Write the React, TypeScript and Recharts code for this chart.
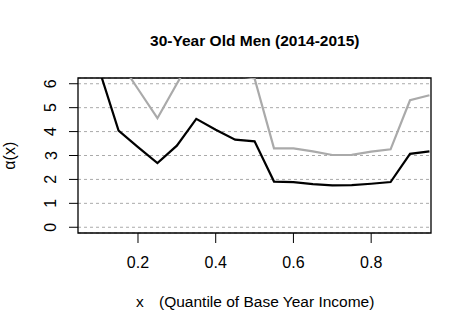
import React from 'react';
import { LineChart, Line, XAxis, YAxis, CartesianGrid, ReferenceArea } from 'recharts';

// quantile grid and the two alpha(x) curves
const quantiles = [0.05, 0.1, 0.15, 0.2, 0.25, 0.3, 0.35, 0.4, 0.45, 0.5, 0.55, 0.6, 0.65, 0.7, 0.75, 0.8, 0.85, 0.9, 0.95];
const blackCurve = [9.0, 6.6, 4.04, 3.35, 2.68, 3.41, 4.53, 4.08, 3.66, 3.59, 1.91, 1.89, 1.8, 1.75, 1.76, 1.82, 1.89, 3.07, 3.17];
const grayCurve = [9.5, 8.5, 7.0, 5.78, 4.56, 6.0, 7.4, 7.2, 6.35, 6.22, 3.3, 3.3, 3.17, 3.02, 3.03, 3.16, 3.26, 5.31, 5.52];
const xTicks = [0.2, 0.4, 0.6, 0.8];
const yTicks = [0, 1, 2, 3, 4, 5, 6];

const X_DOMAIN: [number, number] = [0.0456, 0.954];
const Y_DOMAIN: [number, number] = [-0.24, 6.24];

const data = quantiles.map((q, i) => ({ q, black: blackCurve[i], gray: grayCurve[i] }));

const FONT = '"Liberation Sans", Arial, sans-serif';

const XTick = (props: any) => {
  const { x, payload } = props;
  return (
    <text x={x} y={267.5} textAnchor="middle" fontSize={16} fontFamily={FONT} fill="#000">
      {payload.value}
    </text>
  );
};

const YTick = (props: any) => {
  const { y, payload } = props;
  const bx = 56.5;
  return (
    <text x={bx} y={y} transform={`rotate(-90, ${bx}, ${y})`} textAnchor="middle" fontSize={16} fontFamily={FONT} fill="#000">
      {payload.value}
    </text>
  );
};

const App: React.FC = () => {
  return (
    <div style={{ position: 'absolute', left: 0, top: 0, width: 472, height: 331, background: '#fff' }}>
      <div
        style={{
          position: 'absolute', left: 254.8, top: 32, transform: 'translateX(-50%)', whiteSpace: 'nowrap',
          fontFamily: FONT, fontWeight: 'bold', fontSize: 15.5, lineHeight: '18px', color: '#000',
        }}
      >
        30-Year Old Men (2014-2015)
      </div>
      <LineChart width={472} height={331} data={data} margin={{ top: 78, right: 41, left: 0, bottom: 0 }}>
        <CartesianGrid vertical={false} stroke="#aaaaaa" strokeDasharray="3 3" />
        <XAxis
          dataKey="q"
          type="number"
          domain={X_DOMAIN}
          allowDataOverflow
          ticks={xTicks}
          height={98}
          tickSize={10}
          axisLine={false}
          tickLine={{ stroke: '#000' }}
          tick={<XTick />}
          label={({ viewBox }: any) => (
            <g fontFamily={FONT} fontSize={15.5} fill="#000">
              <text x={136} y={307}>x</text>
              <text x={159} y={307}>(Quantile of Base Year Income)</text>
            </g>
          )}
        />
        <YAxis
          type="number"
          domain={Y_DOMAIN}
          allowDataOverflow
          ticks={yTicks}
          width={78}
          tickSize={9}
          axisLine={false}
          tickLine={{ stroke: '#000' }}
          tick={<YTick />}
          label={() => (
            <text x={15} y={155.7} transform="rotate(-90, 15, 155.7)" textAnchor="middle" fontFamily={FONT} fontSize={16} fill="#000">
              α(x)
            </text>
          )}
        />
        <Line dataKey="gray" stroke="#aaaaaa" strokeWidth={2.2} dot={false} isAnimationActive={false} strokeLinejoin="miter" />
        <Line dataKey="black" stroke="#000000" strokeWidth={2.2} dot={false} isAnimationActive={false} strokeLinejoin="miter" />
        <ReferenceArea x1={X_DOMAIN[0]} x2={X_DOMAIN[1]} y1={Y_DOMAIN[0]} y2={Y_DOMAIN[1]} fill="none" fillOpacity={0} stroke="#000" strokeWidth={1.3} />
      </LineChart>
    </div>
  );
};

export default App;
